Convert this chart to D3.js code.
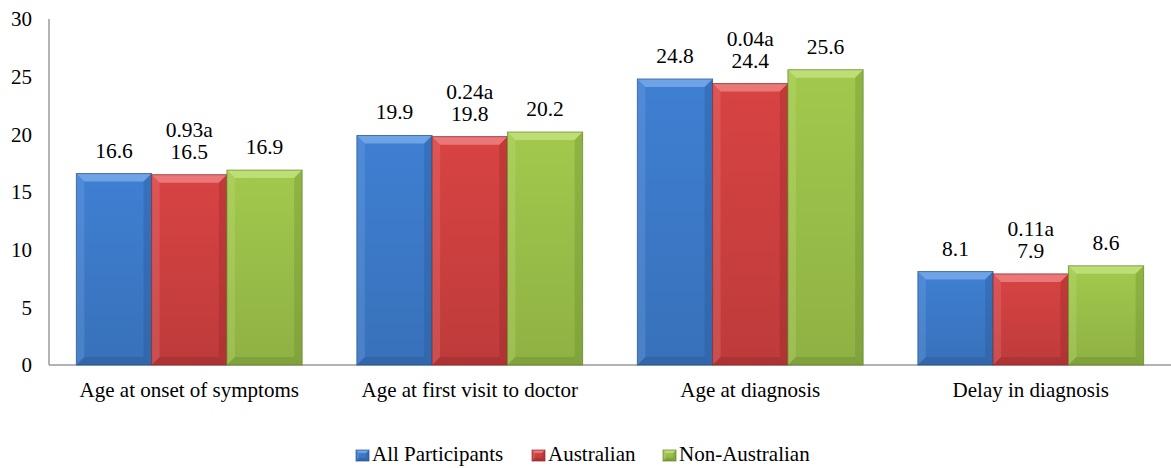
<!DOCTYPE html>
<html><head><meta charset="utf-8">
<script src="https://cdn.jsdelivr.net/npm/d3@7"></script>
<style>
html,body{margin:0;padding:0;background:#fff;}
</style></head>
<body>
<svg id="chart" width="1171" height="468"></svg>
<script>
const categories = ["Age at onset of symptoms","Age at first visit to doctor","Age at diagnosis","Delay in diagnosis"];
const seriesNames = ["All Participants","Australian","Non-Australian"];
const allParticipants = [16.6, 19.9, 24.8, 8.1];
const australian = [16.5, 19.8, 24.4, 7.9];
const nonAustralian = [16.9, 20.2, 25.6, 8.6];
const pValues = ["0.93a","0.24a","0.04a","0.11a"];
const yTicks = [0,5,10,15,20,25,30];
const colors = ["#3D7BCB","#D04141","#9CC24A"];
const lightColors = ["#7FB0EC","#F08A8A","#C6E583"];
const darkColors = ["#24528C","#8E2626","#62832A"];
const FONT = '"Liberation Serif", "Times New Roman", serif';

const series = [allParticipants, australian, nonAustralian];
const svg = d3.select("#chart");
const x0 = d3.scaleBand().domain(categories).range([49,1171]).paddingInner(0.195).paddingOuter(0.0975);
const x1 = d3.scaleBand().domain(seriesNames).range([0,x0.bandwidth()]).padding(0);
const y = d3.scaleLinear().domain([0,30]).range([365,19]);

const defs = svg.append("defs");
colors.forEach((c,i)=>{
  const g = defs.append("linearGradient").attr("id","g"+i).attr("x1",0).attr("y1",0).attr("x2",0).attr("y2",1);
  g.append("stop").attr("offset","0%").attr("stop-color",d3.color(c).brighter(0.1));
  g.append("stop").attr("offset","100%").attr("stop-color",d3.color(c).darker(0.25));
});

svg.append("line").attr("x1",49).attr("x2",49).attr("y1",y(30)).attr("y2",y(0)).attr("stroke","#9a9a9a").attr("stroke-width",1.5);
svg.append("line").attr("x1",49).attr("x2",1171).attr("y1",y(0)).attr("y2",y(0)).attr("stroke","#9a9a9a").attr("stroke-width",1.5);

function txt(sel){ return sel.style("font-family",FONT).attr("fill","#000"); }

txt(svg.selectAll(".ytick").data(yTicks).enter().append("text")
  .attr("x",32).attr("y",d=>y(d)).attr("dy","0.35em").attr("text-anchor","end")
  .style("font-size","21px")).text(d=>d);

function bevelBar(g, xL, w, yT, yB, i, b){
  g.append("rect").attr("x",xL).attr("y",yT).attr("width",w).attr("height",yB-yT).attr("fill","url(#g"+i+")");
  const pts = (arr)=>arr.map(p=>p.join(",")).join(" ");
  g.append("polygon").attr("points",pts([[xL,yT],[xL+w,yT],[xL+w-b,yT+b],[xL+b,yT+b]])).attr("fill",lightColors[i]).attr("opacity",0.75);
  g.append("polygon").attr("points",pts([[xL,yT],[xL+b,yT+b],[xL+b,yB-b],[xL,yB]])).attr("fill",lightColors[i]).attr("opacity",0.25);
  g.append("polygon").attr("points",pts([[xL+w,yT],[xL+w,yB],[xL+w-b,yB-b],[xL+w-b,yT+b]])).attr("fill",darkColors[i]).attr("opacity",0.3);
  g.append("polygon").attr("points",pts([[xL,yB],[xL+b,yB-b],[xL+w-b,yB-b],[xL+w,yB]])).attr("fill",darkColors[i]).attr("opacity",0.35);
  g.append("rect").attr("x",xL).attr("y",yT).attr("width",w).attr("height",yB-yT).attr("fill","none").attr("stroke",darkColors[i]).attr("stroke-width",1).attr("stroke-opacity",0.7);
}

categories.forEach((cat,ci)=>{
  series.forEach((s,si)=>{
    const g = svg.append("g");
    const xL = x0(cat)+x1(seriesNames[si]);
    const w = x1.bandwidth();
    bevelBar(g, xL, w, y(s[ci]), y(0), si, 8);
    const cx = xL + w/2;
    txt(svg.append("text").attr("x",cx).attr("y",y(s[ci])-16).attr("text-anchor","middle").style("font-size","21.5px")).text(s[ci].toFixed(1));
    if(si===1){
      txt(svg.append("text").attr("x",cx).attr("y",y(s[ci])-38).attr("text-anchor","middle").style("font-size","21.5px")).text(pValues[ci]);
    }
  });
  txt(svg.append("text").attr("x",x0(cat)+x0.bandwidth()/2).attr("y",397).attr("text-anchor","middle").style("font-size","21px")).text(cat);
});

const legendX = [356,532,663];
seriesNames.forEach((n,i)=>{
  const g = svg.append("g");
  bevelBar(g, legendX[i], 13, 450, 461, i, 3);
  txt(g.append("text").attr("x",legendX[i]+16).attr("y",461).style("font-size","21px")).text(n);
});
</script>
</body></html>
